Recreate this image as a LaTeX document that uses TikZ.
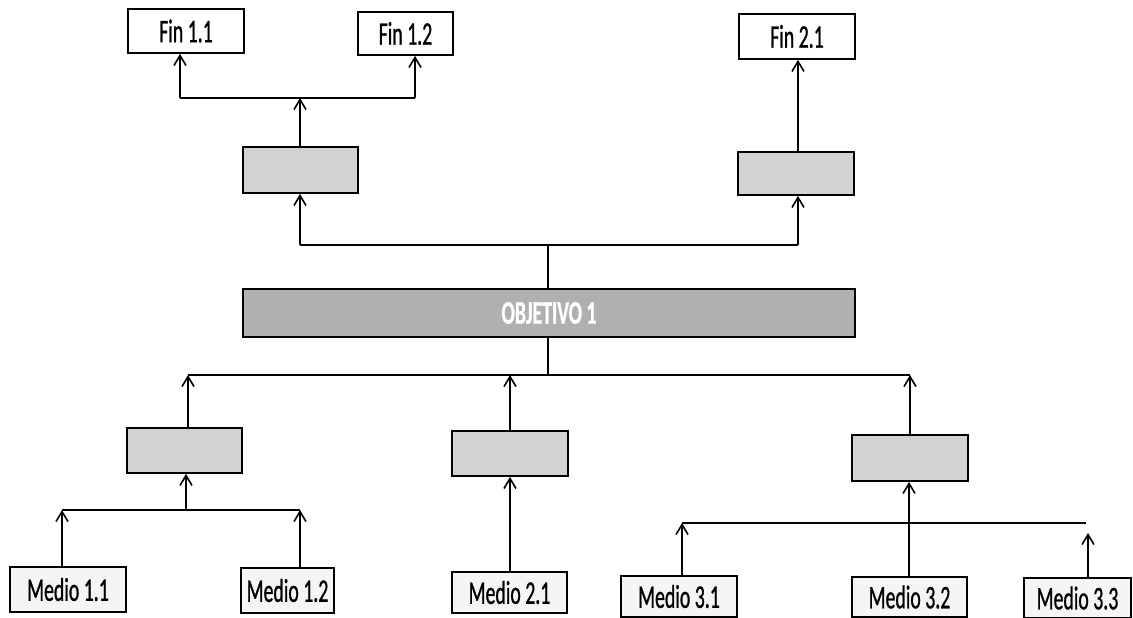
\documentclass[tikz,border=0pt]{standalone}
\usepackage{fontspec}
\newfontfamily\diafont[FakeStretch=0.6,FakeBold=0.8]{Carlito}
\usetikzlibrary{arrows.meta}
\begin{document}
\begin{tikzpicture}[x=1pt,y=-1pt,
  box/.style={draw=black,line width=1.8pt,inner sep=0pt,font=\diafont\fontsize{33}{36}\selectfont},
  finbox/.style={box,fill=white},
  midbox/.style={box,fill=gray!35},
  objbox/.style={box,fill=gray!62,text=white,font=\diafont\bfseries\fontsize{33}{36}\selectfont},
  medbox/.style={box,fill=gray!8},
  conn/.style={line width=1.8pt},
  thin conn/.style={line width=1.1pt},
  arr/.style={-{Straight Barb[length=10pt,width=12pt,line width=1.6pt]}}
]
\useasboundingbox (0,0) rectangle (1133,618);
% top row
\node[finbox,minimum width=116pt,minimum height=44pt] (f11) at (186,31) {Fin 1.1};
\node[finbox,minimum width=95pt,minimum height=43pt] (f12) at (405.5,33.5) {Fin 1.2};
\node[finbox,minimum width=116pt,minimum height=45pt] (f21) at (797,36.5) {Fin 2.1};
% effects
\node[midbox,minimum width=115pt,minimum height=46pt] (e1) at (300.5,170) {};
\node[midbox,minimum width=116pt,minimum height=43pt] (e2) at (796,173.5) {};
% objective
\node[objbox,minimum width=612pt,minimum height=48pt] (obj) at (549,313) {OBJETIVO 1};
% causes
\node[midbox,minimum width=115pt,minimum height=45pt] (c1) at (184.5,450.5) {};
\node[midbox,minimum width=116pt,minimum height=45pt] (c2) at (510,453.5) {};
\node[midbox,minimum width=116pt,minimum height=46pt] (c3) at (910,458) {};
% means
\node[medbox,minimum width=116pt,minimum height=45pt] (m11) at (68,589.5) {Medio 1.1};
\node[medbox,minimum width=93pt,minimum height=45pt] (m12) at (287.5,590.5) {Medio 1.2};
\node[medbox,minimum width=115pt,minimum height=41pt] (m21) at (509.5,592.5) {Medio 2.1};
\node[medbox,minimum width=116pt,minimum height=41pt] (m31) at (679,596.5) {Medio 3.1};
\node[medbox,minimum width=115pt,minimum height=40pt] (m32) at (909.5,597) {Medio 3.2};
\node[medbox,minimum width=107pt,minimum height=40pt] (m33) at (1077.5,598) {Medio 3.3};

% junction coordinates
\coordinate (tL) at (180,98);
\coordinate (tR) at (415,98);
\coordinate (tM) at (300,98);
\coordinate (uL) at (300,245);
\coordinate (uR) at (798,245);
\coordinate (uM) at (548,245);
\coordinate (lL) at (188,375);
\coordinate (lR) at (910,375);
\coordinate (lM) at (548,375);
\coordinate (g1L) at (62,510);
\coordinate (g1R) at (300,510);
\coordinate (g1M) at (186,510);
\coordinate (g3L) at (682,523);
\coordinate (g3R) at (1086,523);
\coordinate (g3M) at (909,523);
\coordinate (m33tip) at (1088,533);

% top connectors
\draw[conn] (tL) -- (tR);
\draw[conn,arr] (e1.north -| tM) -- (tM);
\draw[conn,arr] (tL) -- (tL |- f11.south);
\draw[conn,arr] (tR) -- (tR |- f12.south);
\draw[thin conn,arr] (e2.north -| uR) -- (uR |- f21.south);
% upper line
\draw[conn] (uL) -- (uR);
\draw[conn] (obj.north -| uM) -- (uM);
\draw[conn,arr] (uL) -- (uL |- e1.south);
\draw[conn,arr] (uR) -- (uR |- e2.south);
% lower line
\draw[conn] (obj.south -| lM) -- (lM);
\draw[conn] (lL) -- (lR);
\draw[conn,arr] (c1.north -| lL) -- (lL);
\draw[conn,arr] (c2.north -| c2) -- (c2 |- lL);
\draw[conn,arr] (c3.north -| lR) -- (lR);
% group 1
\draw[conn] (g1L) -- (g1R);
\draw[conn,arr] (g1M) -- (g1M |- c1.south);
\draw[conn,arr] (m11.north -| g1L) -- (g1L);
\draw[thin conn,arr] (m12.north -| g1R) -- (g1R);
% group 2
\draw[thin conn,arr] (m21.north -| c2) -- (c2.south);
% group 3
\draw[conn] (g3L) -- (g3R);
\draw[conn,arr] (g3M) -- (g3M |- c3.south);
\draw[thin conn,arr] (m31.north -| g3L) -- (g3L);
\draw[conn] (m32.north -| g3M) -- (g3M);
\draw[conn,arr] (m33.north -| m33tip) -- (m33tip);
\end{tikzpicture}
\end{document}
